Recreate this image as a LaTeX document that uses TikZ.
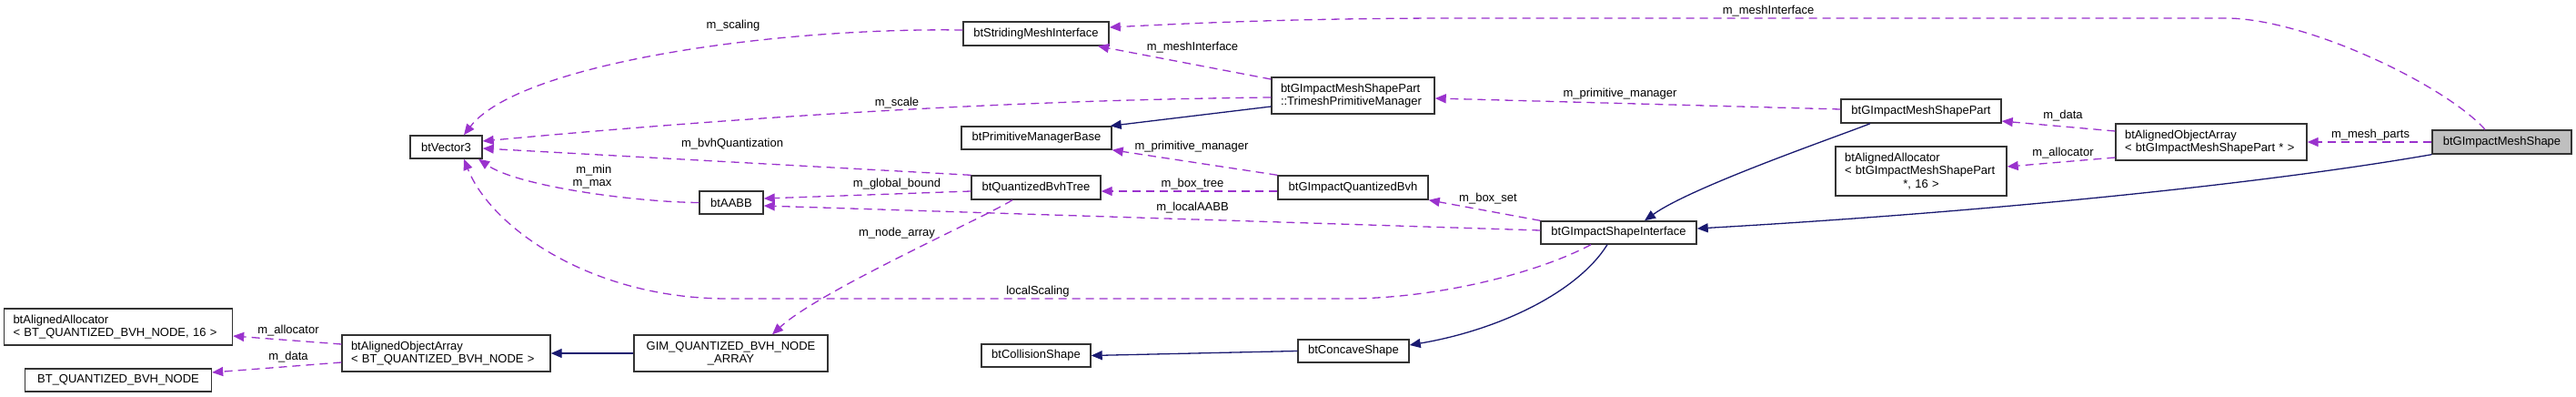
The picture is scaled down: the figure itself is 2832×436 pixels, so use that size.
\documentclass[tikz,border=0pt]{standalone}
\usepackage{fontspec}
\setmainfont{Liberation Sans}
\usetikzlibrary{arrows.meta}
\definecolor{mem}{HTML}{9A32CD}
\definecolor{inh}{HTML}{191970}
\begin{document}
\begin{tikzpicture}[x=1pt,y=-1pt,
  every node/.style={font=\fontsize{13}{14.3}\selectfont},
  clsbox/.style n args={2}{draw=black!80,line width=1.4pt,fill=white,minimum width=#1,minimum height=#2,inner xsep=0pt,inner ysep=0pt,align=center},
  clsleft/.style n args={2}{draw=black!80,line width=1.4pt,fill=white,text width=#1,minimum height=#2,inner xsep=10pt,inner ysep=0pt,align=left},
  member/.style={draw=mem,line width=1.3pt,dash pattern=on 9pt off 6pt,-{Triangle[length=12pt,width=10pt]}},
  inherit/.style={draw=inh,line width=1.3pt,-{Triangle[length=12pt,width=10pt]}},
  lbl/.style={inner sep=0pt}]
\useasboundingbox (0,0) rectangle (2832,436);

% classes
\node[clsbox={79pt}{25pt}] (vec) at (490.5,161.5) {btVector3};
\node[clsleft={231pt}{40pt}] (allocQ) at (130,359) {\mbox{btAlignedAllocator}\\\mbox{< BT\_QUANTIZED\_BVH\_NODE, 16 >}};
\node[clsbox={205pt}{25pt}] (bvhnode) at (130,417.5) {BT\_QUANTIZED\_BVH\_NODE};
\node[clsleft={209pt}{40pt}] (arrQ) at (490.5,388) {\mbox{btAlignedObjectArray}\\\mbox{< BT\_QUANTIZED\_BVH\_NODE >}};
\node[clsbox={213pt}{40pt}] (gim) at (803.5,388) {GIM\_QUANTIZED\_BVH\_NODE\\\_ARRAY};
\node[clsbox={160pt}{26pt}] (smi) at (1139,37) {btStridingMeshInterface};
\node[clsleft={159pt}{40pt}] (tpm) at (1487.5,105) {\mbox{btGImpactMeshShapePart}\\\mbox{::TrimeshPrimitiveManager}};
\node[clsbox={165pt}{25pt}] (pmb) at (1139.5,151.5) {btPrimitiveManagerBase};
\node[clsbox={142pt}{26pt}] (qbt) at (1139,206) {btQuantizedBvhTree};
\node[clsbox={70pt}{25pt}] (aabb) at (804,222.5) {btAABB};
\node[clsbox={120pt}{25pt}] (cs) at (1139,390.5) {btCollisionShape};
\node[clsbox={122pt}{25pt}] (ccs) at (1488,385.5) {btConcaveShape};
\node[clsbox={165pt}{26pt}] (gqb) at (1487.5,206) {btGImpactQuantizedBvh};
\node[clsbox={171pt}{25pt}] (gsi) at (1779.5,255.5) {btGImpactShapeInterface};
\node[clsbox={176pt}{26pt}] (gmsp) at (2112,122) {btGImpactMeshShapePart};
\node[clsleft={168pt}{54pt}] (allocP) at (2112,188) {\mbox{btAlignedAllocator}\\\mbox{< btGImpactMeshShapePart}\\\makebox[168pt][c]{*, 16 >}};
\node[clsleft={190pt}{40pt}] (arrP) at (2431,156) {\mbox{btAlignedObjectArray}\\\mbox{< btGImpactMeshShapePart * >}};
\node[clsbox={153pt}{26pt},fill=black!25] (gms) at (2750.5,156) {btGImpactMeshShape};

% connectors
\draw[member] ([xshift=-18.5pt]gms.north) .. controls (2690,95) and (2540,22) .. (2450,20) -- (1600,20) .. controls (1420,20) and (1300,26) .. ([yshift=7pt]smi.east);
\draw[member] (gms.west) -- (arrP.east);
\draw[inherit] (gms.south west) .. controls (2500,200) and (2200,232) .. ([yshift=4.5pt]gsi.east);
\draw[member] ([yshift=12pt]arrP.west) -- ([yshift=-11pt]gmsp.east);
\draw[member] ([yshift=-17pt]arrP.west) -- ([yshift=5pt]allocP.east);
\draw[member] ([yshift=2pt]gmsp.west) -- ([yshift=-3pt]tpm.east);
\draw[inherit] ([xshift=-56pt]gmsp.south) .. controls (2020,150) and (1860,205) .. ([xshift=28.5pt]gsi.north);
\draw[member] ([yshift=18pt]tpm.west) -- ([xshift=68pt]smi.south);
\draw[inherit] ([yshift=-12pt]tpm.west) -- ([xshift=-2pt]pmb.north east);
\draw[member] ([yshift=-2pt]tpm.west) .. controls (1100,110) and (800,130) .. ([yshift=6.5pt]vec.east);
\draw[member] ([yshift=4pt]smi.west) .. controls (850,30) and (570,70) .. ([xshift=19.5pt]vec.north);
\draw[member] (gqb.north west) -- (pmb.south east);
\draw[member] ([yshift=-4pt]gqb.west) -- ([yshift=-4pt]qbt.east);
\draw[member] ([yshift=-4pt]qbt.west) -- ([yshift=4.5pt]aabb.east);
\draw[member] (qbt.north west) -- ([yshift=-1.5pt]vec.east);
\draw[member] ([xshift=-26pt]qbt.south) .. controls (1080,240) and (900,320) .. ([xshift=45.5pt]gim.north);
\draw[member] (aabb.west) .. controls (700,222) and (570,205) .. ([xshift=35.5pt]vec.south);
\draw[member] (gsi.north west) -- (gqb.south east);
\draw[member] ([yshift=2.5pt]gsi.west) -- ([yshift=-3.5pt]aabb.east);
\draw[member] ([xshift=-30.5pt]gsi.south) .. controls (1690,300) and (1580,328) .. (1480,328) -- (800,328) .. controls (650,328) and (540,250) .. ([xshift=19.5pt]vec.south);
\draw[inherit] ([xshift=-12.5pt]gsi.south) .. controls (1735,320) and (1650,362) .. ([yshift=6.5pt]ccs.east);
\draw[inherit] (ccs.west) -- (cs.east);
\draw[inherit] (gim.west) -- (arrQ.east);
\draw[member] ([yshift=10pt]arrQ.west) -- ([yshift=-10pt]allocQ.east);
\draw[member] ([yshift=-10pt]arrQ.west) -- ([yshift=8.5pt]bvhnode.east);

% labels
\node[lbl] (l1) at (1944,12) {m\_meshInterface};
\node[lbl] (l2) at (2606,148) {m\_mesh\_parts};
\node[lbl] (l3) at (2268,127) {m\_data};
\node[lbl] (l4) at (2268,168) {m\_allocator};
\node[lbl] (l5) at (1781,103) {m\_primitive\_manager};
\node[lbl] (l6) at (1311,52) {m\_meshInterface};
\node[lbl] (l7) at (986,113) {m\_scale};
\node[lbl] (l8) at (806,28) {m\_scaling};
\node[lbl] (l9) at (1310,161) {m\_primitive\_manager};
\node[lbl] (l10) at (1311,202) {m\_box\_tree};
\node[lbl] (l11) at (986,202) {m\_global\_bound};
\node[lbl] (l12) at (805,158) {m\_bvhQuantization};
\node[lbl] (l13) at (986,256) {m\_node\_array};
\node[lbl,align=right] (l14) at (651,194) {m\_min\\m\_max};
\node[lbl] (l15) at (1636,218) {m\_box\_set};
\node[lbl] (l16) at (1311,228) {m\_localAABB};
\node[lbl] (l17) at (1141,320) {localScaling};
\node[lbl] (l18) at (317,363) {m\_allocator};
\node[lbl] (l19) at (317,392) {m\_data};
\end{tikzpicture}
\end{document}
